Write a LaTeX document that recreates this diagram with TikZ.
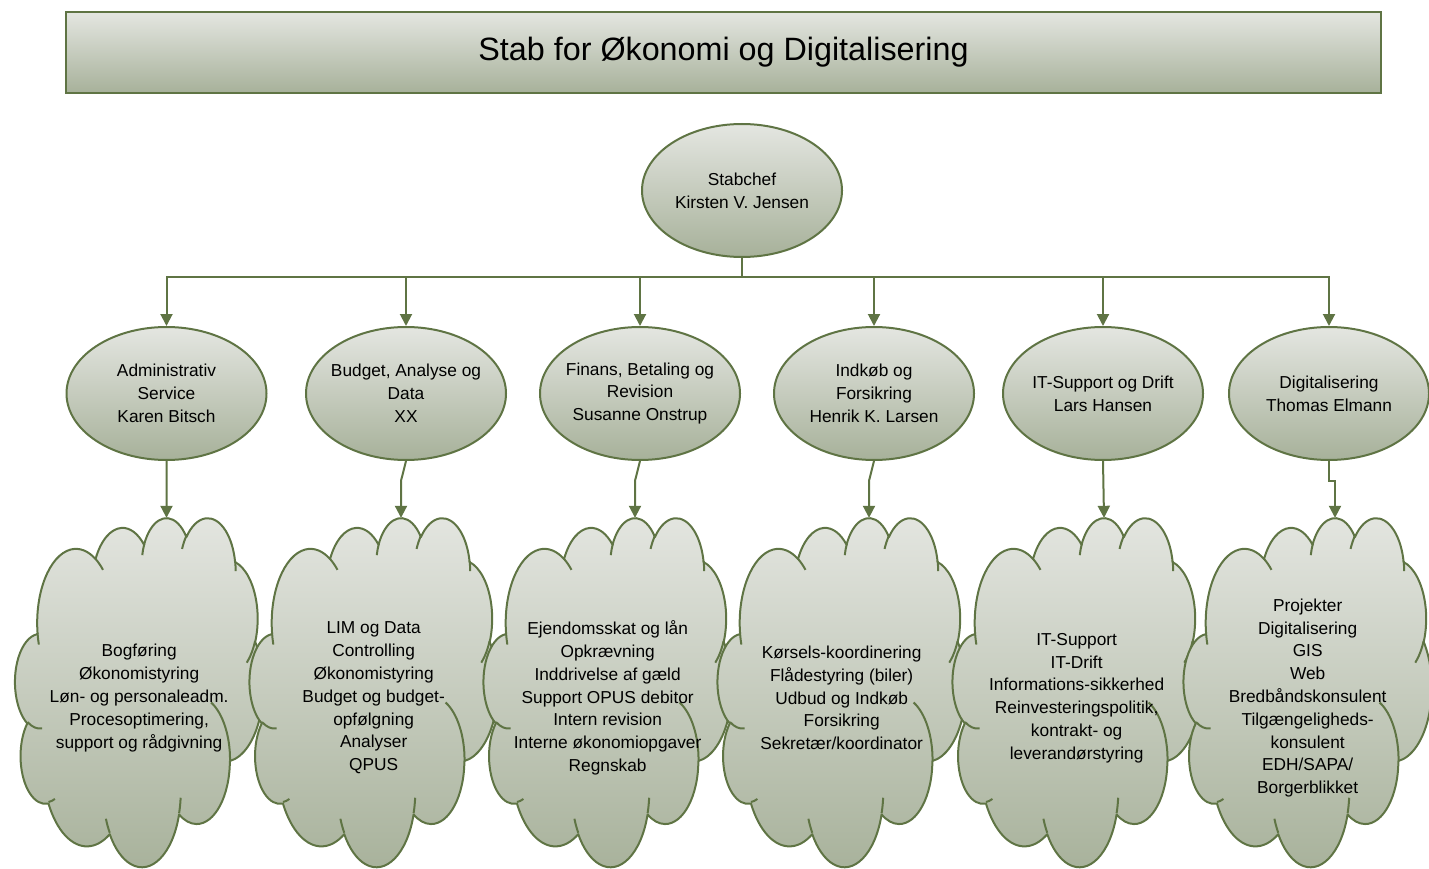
\documentclass[tikz,border=0pt]{standalone}
\usepackage{fontspec}
\setmainfont{Liberation Sans}
\usetikzlibrary{arrows.meta,shapes.geometric}

\definecolor{edgegreen}{HTML}{5F7444}
\definecolor{shadetop}{HTML}{E4E6E1}
\definecolor{shadebot}{HTML}{A7B19A}

\newcommand\bodyfont{\fontsize{17.3}{22.8}\selectfont}
\newcommand\titlefont{\fontsize{32.3}{38}\selectfont}

% Store an elliptic arc given by radii and a "visual" start angle and sweep
% (angles measured from the centre); TikZ arcs need parametric angles.
\newcommand\setpuff[5]{%
  \pgfmathsetmacro\pfS{atan2((#2)*sin(#4),(#3)*cos(#4))}%
  \pgfmathsetmacro\pfE{atan2((#2)*sin((#4)+(#5)),(#3)*cos((#4)+(#5)))}%
  \pgfmathsetmacro\pfD{\pfE-\pfS}%
  \pgfmathsetmacro\pfD{\pfD-360*round((\pfD-(#5))/360)}%
  \expandafter\xdef\csname #1\endcsname{arc[x radius=#2, y radius=#3, start angle=\pfS, delta angle=\pfD]}%
}

% Cloud outline in a 43.2 x 43.2 box, y pointing down
\newcommand\drawcloud[2]{%
  \begin{scope}[shift={(#1,517)}, x=1cm, y=1cm, xscale=0.201764, yscale=-0.28394]
    \path[cloudbody] (3.9,14.37) \puffA \puffB \puffC \puffD \puffE \puffF
      \puffG \puffH \puffI \puffJ \puffK -- cycle;
    \path[cloudseam] (4.693,26.177) \seamA (6.928,34.899) \seamB
      (16.478,39.09) \seamC (28.827,34.751) \seamD (34.129,22.954) \seamE
      (41.798,15.354) \seamF (38.324,5.426) \seamG (29.078,3.952) \seamH
      (22.141,4.72) \seamI (14.0,5.192) \seamJ (4.127,15.789) \seamK;
    \coordinate (#2) at (26.364,0.1);
  \end{scope}}

\tikzset{
  unit/.style={ellipse, draw=edgegreen, line width=2pt,
    top color=shadetop, bottom color=shadebot,
    minimum width=200pt, minimum height=133pt,
    inner xsep=-8pt, inner ysep=0pt, align=center, font=\bodyfont},
  cloudbody/.style={draw=edgegreen, line width=2pt, line join=round,
    top color=shadetop, bottom color=shadebot},
  cloudseam/.style={draw=edgegreen, line width=2pt},
  cloudtext/.style={align=center, font=\bodyfont, inner sep=0pt},
  conn/.style={draw=edgegreen, line width=2pt,
    -{Triangle[length=12pt,width=12pt]}},
  bar/.style={draw=edgegreen, line width=2pt,
    top color=shadetop, bottom color=shadebot,
    minimum width=1315pt, minimum height=81pt, inner sep=0pt,
    font=\titlefont}
}

\begin{document}
\begin{tikzpicture}[x=1pt, y=-1pt]
  \useasboundingbox (0,0) rectangle (1429,869);

  % outer puffs
  \setpuff{puffA}{6.753}{9.190}{-190.487483}{123.780533}
  \setpuff{puffB}{5.333}{7.267}{-144.102383}{89.945233}
  \setpuff{puffC}{4.365}{5.945}{-145.807917}{99.723017}
  \setpuff{puffD}{4.857}{6.595}{-130.986067}{117.241733}
  \setpuff{puffE}{5.333}{7.273}{-78.708883}{109.026917}
  \setpuff{puffF}{6.775}{9.220}{-46.26725}{130.269}
  \setpuff{puffG}{5.785}{7.867}{0.625017}{114.033333}
  \setpuff{puffH}{6.752}{9.215}{22.4516}{115.17255}
  \setpuff{puffI}{7.720}{10.543}{66.242633}{75.711017}
  \setpuff{puffJ}{4.360}{5.918}{-274.942083}{146.735567}
  \setpuff{puffK}{4.345}{5.945}{-246.8285}{152.51885}
  % inner seams
  \setpuff{seamA}{4.345}{5.945}{86.742}{26.4295}
  \setpuff{seamB}{4.360}{5.918}{73.61047}{11.44747}
  \setpuff{seamC}{6.752}{9.215}{137.62415}{14.0811}
  \setpuff{seamD}{6.752}{9.215}{6.45327}{15.99835}
  \setpuff{seamE}{5.785}{7.867}{-70.75}{71.4}
  \setpuff{seamF}{5.333}{7.273}{30.31803}{27.7515}
  \setpuff{seamG}{4.857}{6.595}{-13.74433}{14.85115}
  \setpuff{seamH}{4.857}{6.595}{-149.18145}{18.1968}
  \setpuff{seamI}{4.365}{5.945}{-163.49427}{17.69}
  \setpuff{seamJ}{6.753}{9.190}{-66.70695}{12.31935}
  \setpuff{seamK}{6.753}{9.190}{157.6}{11.9}

  % heading
  \node[bar] (title) at (723.5,52.5) {Stab for Økonomi og Digitalisering};

  % management
  \node[unit] (chef) at (742,190.5) {Stabchef\\Kirsten V. Jensen};
  \coordinate (bus) at (742,276.5);

  % departments
  \node[unit] (adm) at (166.5,393.5) {Administrativ\\Service\\Karen Bitsch};
  \node[unit] (bud) at (406,393.5) {Budget, Analyse og\\Data\\XX};
  \node[unit] (fin) at (640,393.5) {Finans, Betaling og\\Revision\\Susanne Onstrup};
  \node[unit] (ind) at (874,393.5) {Indkøb og\\Forsikring\\Henrik K. Larsen};
  \node[unit] (it)  at (1103,393.5) {IT-Support og Drift\\Lars Hansen};
  \node[unit] (dig) at (1329,393.5) {Digitalisering\\Thomas Elmann};

  % task clouds
  \drawcloud{15.15}{top1}
  \node[cloudtext] (tasks1) at (139.15,698) {Bogføring\\Økonomistyring\\Løn- og personaleadm.\\Procesoptimering,\\support og rådgivning};
  \drawcloud{249.65}{top2}
  \node[cloudtext] (tasks2) at (373.65,698) {LIM og Data\\Controlling\\Økonomistyring\\Budget og budget-\\opfølgning\\Analyser\\QPUS};
  \drawcloud{483.65}{top3}
  \node[cloudtext] (tasks3) at (607.65,698) {Ejendomsskat og lån\\Opkrævning\\Inddrivelse af gæld\\Support OPUS debitor\\Intern revision\\Interne økonomiopgaver\\Regnskab};
  \drawcloud{717.65}{top4}
  \node[cloudtext] (tasks4) at (841.65,698) {Kørsels-koordinering\\Flådestyring (biler)\\Udbud og Indkøb\\Forsikring\\Sekretær/koordinator};
  \drawcloud{952.65}{top5}
  \node[cloudtext] (tasks5) at (1076.65,698) {IT-Support\\IT-Drift\\Informations-sikkerhed\\Reinvesteringspolitik,\\kontrakt- og\\leverandørstyring};
  \drawcloud{1183.65}{top6}
  \node[cloudtext] (tasks6) at (1307.65,698) {Projekter\\Digitalisering\\GIS\\Web\\Bredbåndskonsulent\\Tilgængeligheds-\\konsulent\\EDH/SAPA/\\Borgerblikket};

  % reporting lines
  \foreach \n in {adm,bud,fin,ind,it,dig}
    \draw[conn] (chef.south) -- (bus) -| (\n.north);

  \draw[conn] (adm.south) -- (top1);
  \draw[conn] (bud.south) -- ([yshift=37pt]top2) -- (top2);
  \draw[conn] (fin.south) -- ([yshift=37pt]top3) -- (top3);
  \draw[conn] (ind.south) -- ([yshift=37pt]top4) -- (top4);
  \draw[conn] (it.south) -- (top5);
  \draw[conn] (dig.south) |- ([yshift=37pt]top6) -- (top6);
\end{tikzpicture}
\end{document}
